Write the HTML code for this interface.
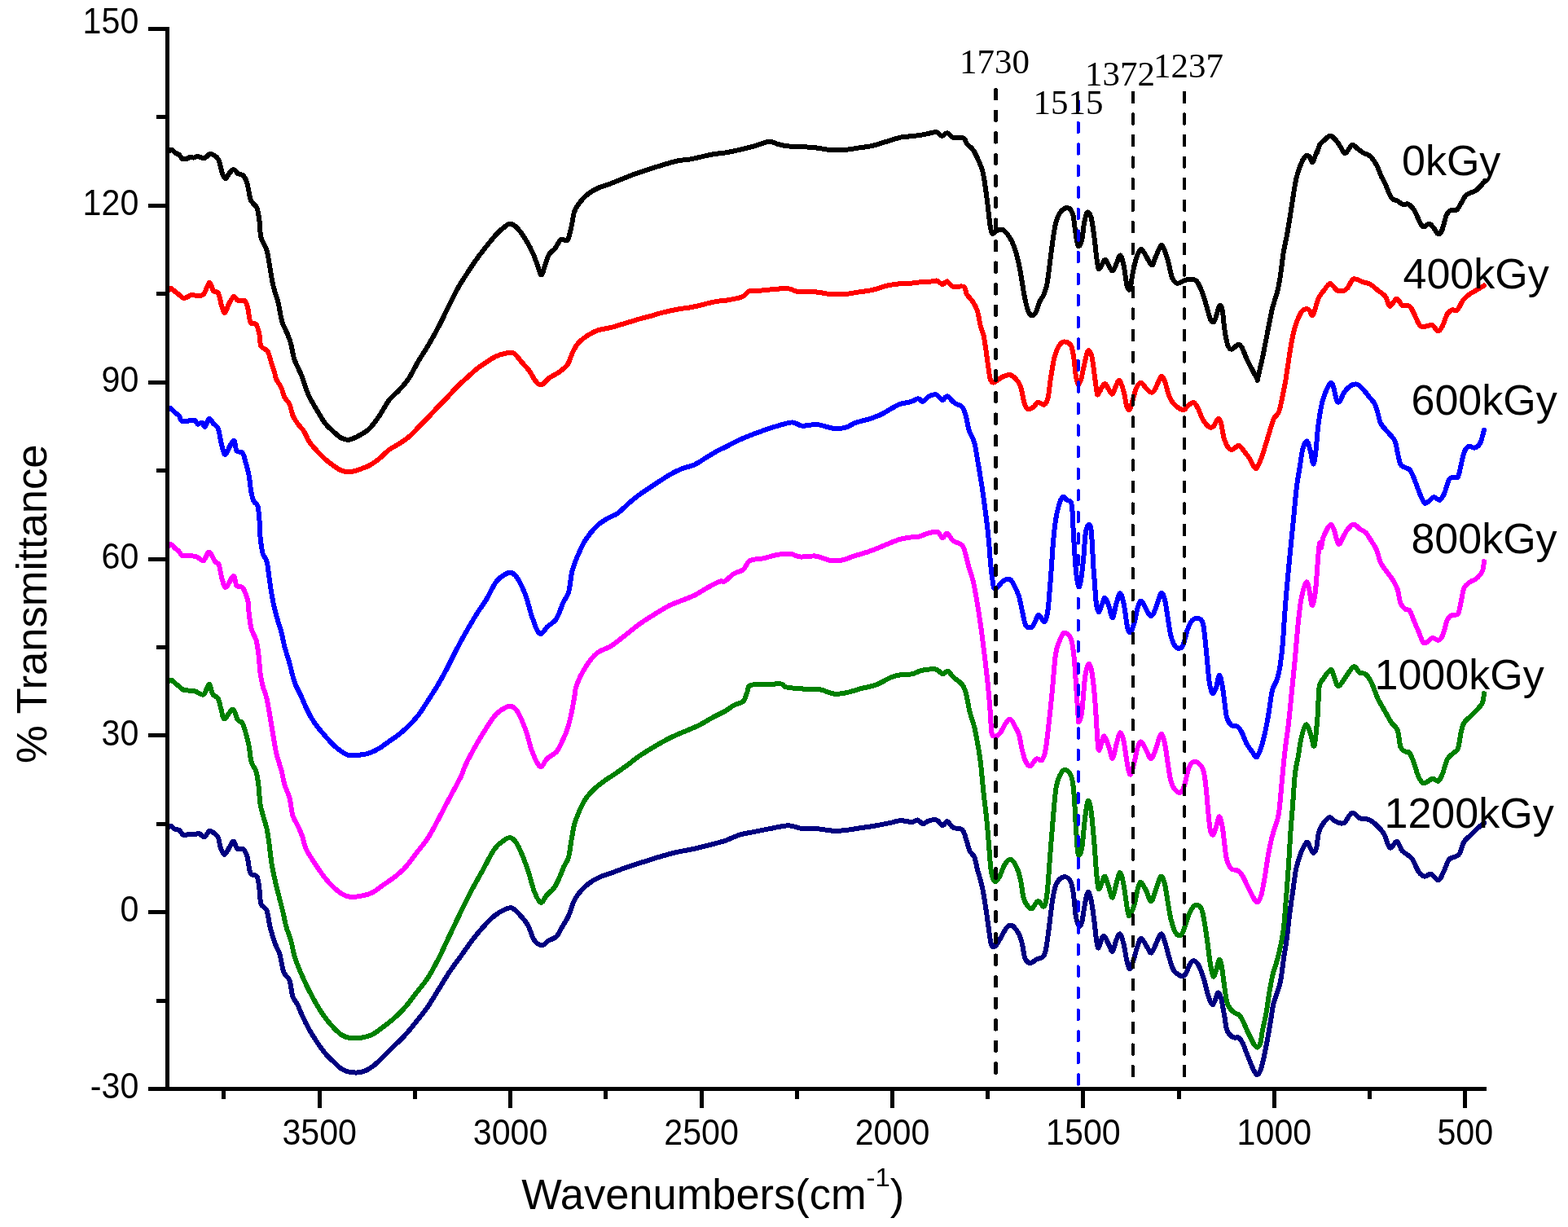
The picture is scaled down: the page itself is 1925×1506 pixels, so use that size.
<!DOCTYPE html>
<html><head><meta charset="utf-8"><title>FTIR spectra</title>
<style>html,body{margin:0;padding:0;background:#fff;overflow:hidden;}svg{display:block;}.s{font-family:"Liberation Sans",Arial,sans-serif;}.t{font-family:"Liberation Serif","Times New Roman",serif;}</style>
</head><body>
<svg width="1925" height="1506" viewBox="0 0 1925 1506" shape-rendering="crispEdges">
<rect x="0" y="0" width="1925" height="1506" fill="#fff"/>
<path d="M206 1015.9 C206.7 1015.6 208.5 1013.6 210 1013.9 C211.5 1014.2 213.3 1017.1 215 1017.9 C216.7 1018.7 218.3 1017.7 220 1018.9 C221.7 1020.1 223 1024.1 225 1024.9 C227 1025.7 229.4 1024.1 231.9 1023.9 C234.4 1023.7 237.7 1024.1 239.8 1023.9 C242 1023.7 243 1022.3 244.8 1022.9 C246.6 1023.5 248.8 1028 250.8 1027.5 C252.8 1027 255 1020.9 256.8 1020 C258.6 1019.1 260 1020.6 261.8 1021.9 C263.6 1023.1 266.2 1024.5 267.7 1027.5 C269.2 1030.5 269.4 1036.4 270.7 1040 C272 1043.6 273.9 1048.9 275.7 1048.9 C277.5 1048.9 279.9 1042.7 281.7 1040 C283.5 1037.3 285 1032.2 286.7 1032.5 C288.4 1032.8 289.6 1040.4 291.6 1042 C293.6 1043.6 296.6 1040.3 298.6 1042 C300.6 1043.7 302.1 1046.9 303.6 1051.9 C305.1 1056.9 305.6 1067.8 307.6 1071.8 C309.6 1075.8 313.7 1072.5 315.5 1075.8 C317.3 1079.1 317.7 1086.1 318.5 1091.7 C319.3 1097.3 319 1105.3 320.5 1109.6 C322 1113.9 325.7 1112.9 327.5 1117.6 C329.3 1122.2 329.8 1130.8 331.5 1137.5 C333.2 1144.2 335.5 1151.8 337.5 1157.5 C339.5 1163.2 341.6 1165.4 343.4 1171.4 C345.2 1177.4 346.4 1188 348.4 1193.3 C350.4 1198.6 353.6 1198.3 355.4 1203.3 C357.2 1208.3 357.8 1218.2 359.4 1223.2 C361 1228.2 363.3 1229.1 365.3 1233.1 C367.3 1237.1 369 1242.1 371.3 1247.1 C373.6 1252.1 376.3 1257.7 379.3 1263 C382.3 1268.3 385.9 1274 389.2 1279 C392.5 1284 395.9 1288.9 399.2 1292.9 C402.5 1296.9 405.9 1299.8 409.2 1302.9 C412.5 1306.1 415.8 1309.7 419.1 1311.8 C422.4 1313.9 425 1315.1 429.1 1315.8 C433.2 1316.5 438.9 1317 443.6 1315.9 C448.3 1314.8 452.7 1312.3 457.2 1309.1 C461.7 1305.9 466.3 1301.2 470.8 1296.9 C475.3 1292.6 479.9 1287.8 484.4 1283.3 C488.9 1278.8 493.5 1274.7 498 1269.7 C502.5 1264.7 507.1 1259 511.6 1253.3 C516.1 1247.6 520.7 1242.2 525.2 1235.6 C529.7 1229 534.3 1221.2 538.8 1213.9 C543.3 1206.7 547.8 1198.9 552.4 1192.1 C557 1185.3 561.5 1179.4 566.1 1173.1 C570.7 1166.8 575.2 1159.9 579.7 1154 C584.2 1148.1 588.8 1142.7 593.3 1137.7 C597.8 1132.7 602.4 1127.7 606.9 1124.1 C611.4 1120.5 616.9 1117.5 620.5 1115.9 C624.1 1114.3 625.9 1113.7 628.6 1114.6 C631.3 1115.5 633.6 1118 636.8 1121.4 C640 1124.8 644.5 1129.6 647.7 1135 C650.9 1140.4 652.9 1149.8 655.9 1154 C658.9 1158.2 662.5 1160.1 665.5 1160.2 C668.5 1160.3 670.7 1156.2 673.6 1154.4 C676.5 1152.7 680.2 1152.4 682.9 1149.7 C685.6 1147 687.4 1142.3 689.9 1138.1 C692.4 1133.8 695.7 1129.2 698 1124.2 C700.3 1119.2 701.7 1112.6 703.8 1107.9 C705.9 1103.2 707.7 1100.2 710.8 1096.3 C713.9 1092.4 718.1 1088 722.4 1084.7 C726.6 1081.4 731.3 1078.8 736.3 1076.5 C741.3 1074.2 746.8 1072.8 752.6 1070.7 C758.4 1068.6 765 1065.9 771.2 1063.8 C777.4 1061.7 783.6 1059.9 789.8 1057.9 C796 1056 801.7 1054 808.3 1052.1 C814.9 1050.2 821.9 1048 829.3 1046.3 C836.7 1044.6 844.8 1043.4 852.5 1041.7 C860.2 1040 869.5 1037.5 875.7 1035.9 C882 1034.3 884.5 1033.8 890 1031.9 C895.5 1030 902.4 1026.4 908.6 1024.5 C914.8 1022.6 921 1022 927.2 1020.7 C933.4 1019.5 939 1018.2 945.8 1017 C952.6 1015.8 961.6 1013.3 968.1 1013.3 C974.6 1013.3 979.2 1016.4 984.8 1017 C990.4 1017.6 995 1016.5 1001.5 1017 C1008 1017.5 1017.7 1019.5 1023.9 1019.8 C1030.1 1020.1 1033.1 1019.5 1038.7 1018.9 C1044.3 1018.3 1051.1 1017 1057.3 1016.1 C1063.5 1015.2 1069.7 1014.4 1075.9 1013.3 C1082.1 1012.2 1089.5 1010.6 1094.5 1009.6 C1099.5 1008.6 1101.5 1007.3 1105.7 1007.2 C1110 1007.1 1116.5 1009.1 1120 1009 C1123.5 1008.9 1124.3 1006 1126.5 1006.4 C1128.7 1006.8 1130.7 1010.9 1133 1011.1 C1135.3 1011.3 1137.6 1008.2 1140.4 1007.4 C1143.2 1006.6 1146.9 1005.5 1149.7 1006.4 C1152.5 1007.3 1155 1012.7 1157.2 1013 C1159.4 1013.3 1160.6 1007.8 1162.8 1008.3 C1165 1008.8 1167.1 1014 1170.2 1015.7 C1173.3 1017.4 1178.7 1016.2 1181.3 1018.5 C1183.9 1020.8 1184.5 1025.4 1186 1029.7 C1187.5 1034 1188.9 1040.9 1190.6 1044.6 C1192.3 1048.3 1194.7 1048.3 1196.2 1052 C1197.8 1055.7 1198.4 1061 1199.9 1066.9 C1201.5 1072.8 1204 1080.5 1205.5 1087.3 C1207 1094.1 1208 1100 1209.2 1107.8 C1210.5 1115.5 1211.8 1125.4 1213 1133.8 C1214.2 1142.2 1215.3 1153.3 1216.7 1158 C1218.1 1162.7 1219.5 1162.6 1221.3 1161.7 C1223.1 1160.8 1225.5 1156.1 1227.8 1152.4 C1230.1 1148.7 1233 1142.2 1235.3 1139.4 C1237.6 1136.6 1239.3 1134.8 1241.8 1135.7 C1244.3 1136.6 1247.9 1141.3 1250.1 1145 C1252.3 1148.7 1253.4 1152.7 1254.8 1158 C1256.2 1163.3 1256.8 1172.6 1258.5 1176.6 C1260.2 1180.6 1262.7 1181.9 1265 1182.1 C1267.3 1182.2 1269.9 1178.7 1272.4 1177.5 C1274.9 1176.3 1278 1176.4 1279.9 1174.7 C1281.8 1173 1282.4 1172.6 1283.6 1167.3 C1284.8 1162 1285.9 1153.3 1287.3 1143.1 C1288.7 1132.9 1290.5 1115.5 1292 1105.9 C1293.5 1096.3 1294.3 1090.5 1296.6 1085.5 C1298.9 1080.5 1303 1076.8 1305.9 1076.2 C1308.9 1075.6 1312.3 1078 1314.3 1081.7 C1316.3 1085.4 1316.9 1091.4 1318 1098.5 C1319.1 1105.6 1319.7 1118.2 1320.8 1124.5 C1321.9 1130.8 1323.3 1135.4 1324.5 1136.6 C1325.7 1137.8 1327 1136.4 1328.2 1131.9 C1329.4 1127.4 1330.7 1115.8 1331.9 1109.6 C1333.1 1103.4 1334.3 1095.7 1335.6 1094.8 C1336.8 1093.9 1338.2 1098.4 1339.4 1104 C1340.7 1109.6 1342 1120.1 1343.1 1128.2 C1344.2 1136.3 1345 1146.5 1345.9 1152.4 C1346.8 1158.3 1347.5 1163.8 1348.7 1163.5 C1349.9 1163.2 1352 1152.7 1353.3 1150.5 C1354.6 1148.3 1355.2 1148.6 1356.5 1150.1 C1357.8 1151.6 1359.7 1156.5 1361.2 1159.4 C1362.8 1162.3 1364.3 1168.6 1365.8 1167.7 C1367.3 1166.8 1368.9 1157.3 1370.4 1153.8 C1372 1150.2 1373.5 1145.5 1375.1 1146.4 C1376.6 1147.3 1378.3 1153.8 1379.7 1159.4 C1381.1 1165 1382.2 1174.8 1383.5 1179.8 C1384.8 1184.8 1385.8 1189.4 1387.2 1189.1 C1388.6 1188.8 1390.2 1182.7 1391.8 1178 C1393.3 1173.3 1395 1165.5 1396.5 1161.2 C1398 1156.9 1399.2 1151.9 1401.1 1151.9 C1402.9 1151.9 1405.6 1158.2 1407.6 1161.2 C1409.6 1164.2 1411.3 1169.9 1413.2 1169.6 C1415.1 1169.3 1416.8 1163.3 1418.8 1159.4 C1420.8 1155.5 1423.4 1147 1425.3 1146.4 C1427.2 1145.8 1428.4 1151.4 1429.9 1155.7 C1431.5 1160 1432.9 1166.7 1434.6 1172.4 C1436.3 1178.1 1438.3 1186 1440.3 1189.9 C1442.2 1193.8 1444.4 1194.5 1446.3 1195.9 C1448.2 1197.3 1450.1 1198.5 1451.7 1198.3 C1453.3 1198.1 1454.4 1197.1 1455.9 1194.7 C1457.4 1192.3 1459 1186.5 1460.6 1183.9 C1462.2 1181.3 1463.8 1179.3 1465.4 1179.1 C1467 1178.9 1468.8 1180.9 1470.2 1182.7 C1471.6 1184.5 1472.4 1186.3 1473.8 1189.9 C1475.2 1193.5 1477 1198.8 1478.6 1204.2 C1480.2 1209.6 1481.8 1217.4 1483.4 1222.2 C1485 1227 1486.7 1231.9 1488.1 1232.9 C1489.5 1233.9 1490.5 1230.5 1491.7 1228.1 C1492.9 1225.7 1494.1 1219.2 1495.3 1218.6 C1496.5 1218 1497.9 1221.6 1498.9 1224.6 C1499.9 1227.6 1500.5 1232.3 1501.3 1236.5 C1502.1 1240.7 1502.9 1245.1 1503.7 1249.7 C1504.5 1254.3 1504.9 1260.4 1506.1 1264 C1507.3 1267.6 1509.3 1269.6 1510.9 1271.2 C1512.5 1272.8 1514 1273.2 1515.6 1273.6 C1517.2 1274 1518.8 1272.6 1520.4 1273.6 C1522 1274.6 1523.6 1276.5 1525.2 1279.5 C1526.8 1282.5 1528.4 1287.5 1530 1291.5 C1531.6 1295.5 1533.2 1299.7 1534.8 1303.5 C1536.4 1307.3 1538.1 1311.6 1539.5 1314.2 C1540.9 1316.8 1541.9 1318.8 1543.1 1319 C1544.3 1319.2 1545.5 1318 1546.7 1315.4 C1547.9 1312.8 1549.1 1308.3 1550.3 1303.5 C1551.5 1298.7 1552.7 1292.7 1553.9 1286.7 C1555.1 1280.7 1556.4 1273.8 1557.5 1267.6 C1558.6 1261.4 1559.5 1255.7 1560.5 1249.7 C1561.5 1243.7 1562.2 1237.1 1563.5 1231.7 C1564.8 1226.3 1566.8 1221.8 1568.2 1217.4 C1569.6 1213 1570.8 1210 1571.8 1205.4 C1572.8 1200.8 1573.4 1195.5 1574.2 1189.9 C1575 1184.3 1575.8 1177.3 1576.6 1172 C1577.4 1166.7 1577.8 1166.7 1579 1158 C1580.2 1149.3 1582.1 1130.9 1583.5 1120 C1584.9 1109.1 1586.1 1101.3 1587.4 1092.4 C1588.7 1083.5 1589.7 1073.8 1591.2 1066.4 C1592.8 1059 1594.5 1053.2 1596.7 1047.8 C1598.9 1042.4 1602.2 1035 1604.2 1033.9 C1606.2 1032.8 1607.4 1039.1 1608.8 1041.3 C1610.2 1043.5 1611.3 1047.1 1612.5 1046.9 C1613.7 1046.8 1615.1 1044.6 1616.2 1040.4 C1617.3 1036.2 1617.6 1026.8 1619 1021.8 C1620.4 1016.8 1622.4 1013.7 1624.6 1010.6 C1626.8 1007.5 1629.8 1003.8 1632 1003.2 C1634.2 1002.6 1635.7 1005.8 1637.6 1006.9 C1639.5 1008 1641 1009.2 1643.2 1009.7 C1645.4 1010.2 1647.8 1011.7 1650.6 1009.7 C1653.4 1007.7 1656.8 998.5 1659.9 997.6 C1663 996.7 1665.8 1002.7 1669.2 1004.1 C1672.6 1005.5 1677 1004.6 1680.4 1006 C1683.8 1007.4 1686.6 1009.6 1689.7 1012.5 C1692.8 1015.4 1696.2 1019 1699 1023.6 C1701.8 1028.2 1703.8 1038.9 1706.4 1040.4 C1709 1042 1712.3 1032.3 1714.8 1032.9 C1717.3 1033.5 1719 1041.3 1721.3 1044.1 C1723.6 1046.9 1726.5 1047.8 1728.7 1049.7 C1730.9 1051.6 1732.1 1051.8 1734.3 1055.2 C1736.5 1058.6 1739.2 1066.7 1741.7 1070.1 C1744.2 1073.5 1746.6 1075.2 1749.1 1075.7 C1751.6 1076.2 1753.8 1072.1 1756.6 1072.9 C1759.4 1073.7 1763.4 1080.5 1765.9 1080.3 C1768.4 1080.1 1769.2 1076.2 1771.4 1072 C1773.6 1067.8 1776.4 1058.6 1778.9 1055.2 C1781.4 1051.8 1784.1 1052.7 1786.3 1051.5 C1788.5 1050.3 1790 1050.9 1791.9 1047.8 C1793.8 1044.7 1795.3 1036.6 1797.5 1032.9 C1799.7 1029.2 1802.4 1028 1804.9 1025.5 C1807.4 1023 1809.5 1020.7 1812.3 1018.1 C1815.1 1015.5 1820.4 1011.4 1822 1010" fill="none" stroke="#000080" stroke-width="6" stroke-linejoin="round" stroke-linecap="round"/>
<path d="M206 837.6 C206.7 837.1 208.5 834.4 210 834.6 C211.5 834.8 213.3 837.3 215 838.6 C216.7 839.9 218.3 841.3 220 842.6 C221.7 843.9 223 845.8 225 846.6 C227 847.4 229.4 847.3 231.9 847.6 C234.4 847.9 236.8 847.8 239.8 848.6 C242.8 849.4 247 854 249.8 852.5 C252.6 851 255 839.8 256.8 839.6 C258.6 839.5 259 848.6 260.8 851.6 C262.6 854.6 265.9 854.2 267.7 857.5 C269.5 860.8 270.4 867.4 271.7 871.5 C273 875.6 273.4 882.6 275.7 882.4 C278 882.2 283 870.3 285.7 870.5 C288.4 870.7 289.6 880.6 291.6 883.4 C293.6 886.2 295.9 884.7 297.6 887.4 C299.3 890.1 300.3 894.8 301.6 899.4 C302.9 904 304.4 909.3 305.6 915.3 C306.8 921.3 307.1 929.9 308.6 935.2 C310.1 940.5 313 942.2 314.5 947.2 C316 952.2 316.7 958.5 317.5 965.1 C318.3 971.7 318.5 980.7 319.5 987 C320.5 993.3 322.2 998 323.5 1003 C324.8 1008 326.3 1011.4 327.5 1016.9 C328.7 1022.4 329.5 1028.8 330.5 1036 C331.5 1043.2 332.3 1052.5 333.5 1059.8 C334.7 1067.1 336 1073.1 337.5 1079.8 C339 1086.5 340.8 1093.1 342.4 1099.7 C344 1106.3 345.9 1113.3 347.4 1119.6 C348.9 1125.9 349.7 1131.5 351.4 1137.5 C353.1 1143.5 355.7 1149.5 357.4 1155.5 C359.1 1161.5 359.8 1167.8 361.4 1173.4 C363 1179 365 1183.7 367.3 1189.3 C369.6 1194.9 372.6 1201.6 375.3 1207.3 C378 1213 380.7 1218.2 383.3 1223.2 C385.9 1228.2 388.6 1232.8 391.2 1237.1 C393.8 1241.4 396.2 1245.1 399.2 1249.1 C402.2 1253.1 405.9 1257.5 409.2 1261 C412.5 1264.5 415.8 1267.8 419.1 1270 C422.4 1272.2 425 1273.4 429.1 1274 C433.2 1274.6 438.9 1274.4 443.6 1273.7 C448.3 1273 452.7 1272 457.2 1269.7 C461.7 1267.4 466.3 1263.5 470.8 1260.1 C475.3 1256.7 479.9 1253.4 484.4 1249.3 C488.9 1245.2 493.5 1240.8 498 1235.6 C502.5 1230.4 507.1 1223.9 511.6 1218 C516.1 1212.1 520.7 1207.3 525.2 1200.3 C529.7 1193.3 534.3 1184.6 538.8 1175.8 C543.3 1167 547.8 1156.7 552.4 1147.2 C557 1137.7 561.5 1127.9 566.1 1118.6 C570.7 1109.3 575.2 1100 579.7 1091.4 C584.2 1082.8 588.8 1075.1 593.3 1066.9 C597.8 1058.7 602.4 1048.5 606.9 1042.4 C611.4 1036.3 616.9 1032.5 620.5 1030.2 C624.1 1027.9 625.9 1027.2 628.6 1028.8 C631.3 1030.4 633.6 1033.3 636.8 1039.7 C640 1046.1 644.5 1057.8 647.7 1066.9 C650.9 1076 653.2 1087.3 655.9 1094.1 C658.6 1100.9 661.4 1107 664 1107.8 C666.6 1108.5 668.5 1101.7 671.3 1098.6 C674.1 1095.5 677.9 1093.2 680.6 1089.3 C683.3 1085.4 685.6 1079.7 687.5 1075.4 C689.4 1071.2 690.5 1067.7 692.2 1063.8 C694 1059.9 696.5 1057.5 698 1052.1 C699.5 1046.7 700.3 1037.8 701.5 1031.2 C702.7 1024.6 703.5 1018.4 705 1012.6 C706.5 1006.8 708.7 1001.4 710.8 996.4 C712.9 991.4 715 986.7 717.7 982.4 C720.4 978.1 723.1 974.7 727 970.8 C730.9 966.9 736.4 962.7 741 959.2 C745.6 955.7 749.9 953.4 754.9 949.9 C759.9 946.4 766.2 942 771.2 938.3 C776.2 934.6 779.7 931.5 785.1 927.8 C790.5 924.1 797.5 919.9 803.7 916.2 C809.9 912.5 816.1 908.9 822.3 905.8 C828.5 902.7 835.1 900.1 840.9 897.6 C846.7 895.1 851.3 893.6 857.1 890.7 C862.9 887.8 870.2 883.2 875.7 880.2 C881.2 877.2 885.8 875.5 890 873 C894.2 870.5 897.5 867.5 901.2 865.5 C904.9 863.5 909.7 863.4 912.3 860.9 C914.9 858.4 915.6 853.9 917 850.6 C918.4 847.3 917.5 843 920.7 841.3 C924 839.6 930.1 840.7 936.5 840.4 C942.9 840.1 954.1 839 958.8 839.5 C963.4 840 960.4 842.2 964.4 843.2 C968.4 844.2 976.2 844.9 983 845.4 C989.8 845.9 998.5 845 1005.3 846 C1012.1 847 1018.3 850.9 1023.9 851.6 C1029.5 852.3 1033.1 851.4 1038.7 850.3 C1044.3 849.2 1051.1 846.8 1057.3 845.1 C1063.5 843.5 1069.7 842.7 1075.9 840.4 C1082.1 838.1 1089.5 833.1 1094.5 831.1 C1099.5 829.1 1101.5 828.9 1105.7 828.3 C1110 827.7 1116.1 828.1 1120 827.3 C1123.9 826.5 1126.2 824.5 1129.3 823.6 C1132.4 822.7 1135.2 822 1138.6 821.7 C1142 821.4 1146.6 820.8 1149.7 821.7 C1152.8 822.6 1154.9 827 1157.2 827.3 C1159.5 827.6 1161.5 823 1163.7 823.6 C1165.9 824.2 1167.3 828.2 1170.2 831 C1173.1 833.8 1178.7 836.9 1181.3 840.3 C1183.9 843.7 1184.5 845.9 1186 851.5 C1187.5 857.1 1188.9 867 1190.6 873.8 C1192.3 880.6 1194.7 886.2 1196.2 892.4 C1197.8 898.6 1198.7 903.9 1199.9 911 C1201.2 918.1 1202.5 924.8 1203.7 935 C1205 945.2 1206.2 960.6 1207.4 972.1 C1208.6 983.6 1210 993.2 1211.1 1003.7 C1212.2 1014.2 1213 1024.5 1213.9 1035.3 C1214.8 1046.1 1215.5 1061 1216.7 1068.7 C1217.9 1076.4 1219.6 1080.5 1221.3 1081.7 C1223 1083 1224.9 1079.6 1226.9 1076.2 C1228.9 1072.8 1231.1 1064.9 1233.4 1061.3 C1235.7 1057.7 1238.3 1054.2 1240.8 1054.8 C1243.3 1055.4 1246.3 1060.8 1248.3 1065 C1250.3 1069.2 1251.5 1073.7 1252.9 1079.9 C1254.3 1086.1 1255.2 1096.9 1256.6 1102.2 C1258 1107.5 1259.6 1109.3 1261.3 1111.5 C1263 1113.7 1264.7 1116.1 1266.9 1115.2 C1269.1 1114.3 1271.8 1106.4 1274.3 1105.9 C1276.8 1105.4 1279.8 1114 1281.7 1112.4 C1283.6 1110.9 1284.2 1107 1285.5 1096.6 C1286.8 1086.2 1288 1065.6 1289.2 1050.1 C1290.4 1034.6 1291.7 1017.6 1292.9 1003.7 C1294.1 989.8 1295.2 975.2 1296.6 966.5 C1298 957.8 1299.6 955.2 1301.3 951.6 C1303 948 1304.6 945.2 1306.8 945.1 C1309 945 1312.4 946.8 1314.3 950.7 C1316.2 954.6 1316.9 957.9 1318 968.3 C1319.1 978.7 1320 1000.9 1320.8 1013 C1321.6 1025.1 1322 1034.6 1322.6 1040.8 C1323.2 1047 1323.6 1050.1 1324.5 1050.1 C1325.4 1050.1 1327 1048.2 1328.2 1040.8 C1329.4 1033.4 1330.7 1015.1 1331.9 1005.5 C1333.1 995.9 1334.3 985.1 1335.6 983.2 C1336.8 981.4 1338.2 986.4 1339.4 994.4 C1340.7 1002.4 1342 1019.1 1343.1 1031.5 C1344.2 1043.9 1345 1058.8 1345.9 1068.7 C1346.8 1078.6 1347.5 1088.8 1348.7 1091 C1349.9 1093.2 1352 1084.2 1353.3 1081.7 C1354.6 1079.2 1355.2 1074.5 1356.5 1075.7 C1357.8 1076.9 1359.7 1084.4 1361.2 1088.7 C1362.8 1093 1364.3 1102.3 1365.8 1101.7 C1367.3 1101.1 1368.9 1090.1 1370.4 1085 C1372 1079.9 1373.5 1070.8 1375.1 1071.1 C1376.6 1071.4 1378.2 1079 1379.7 1086.9 C1381.2 1094.8 1383.2 1112.5 1384.4 1118.5 C1385.7 1124.5 1385.8 1124.6 1387.2 1123.1 C1388.6 1121.5 1391.1 1114.9 1392.8 1109.2 C1394.5 1103.5 1396 1093 1397.4 1088.7 C1398.8 1084.4 1399.4 1082.3 1401.1 1083.2 C1402.8 1084.1 1405.6 1090.4 1407.6 1094.3 C1409.6 1098.2 1411.3 1106.7 1413.2 1106.4 C1415.1 1106.1 1416.8 1097.5 1418.8 1092.4 C1420.8 1087.3 1423.4 1076.9 1425.3 1075.7 C1427.2 1074.5 1428.5 1079.7 1429.9 1085 C1431.3 1090.3 1432.5 1100.2 1433.7 1107.3 C1435 1114.4 1435.9 1121.6 1437.4 1127.8 C1439 1134 1441 1141.1 1443 1144.5 C1445 1147.9 1447.7 1149.1 1449.5 1148.2 C1451.3 1147.3 1452.4 1143.2 1454.1 1138.9 C1455.8 1134.6 1457.5 1126.9 1459.7 1122.2 C1461.9 1117.5 1464.6 1112.2 1467.1 1111 C1469.6 1109.8 1472.7 1111.7 1474.6 1114.8 C1476.5 1117.9 1477.1 1123.1 1478.3 1129.6 C1479.5 1136.1 1480.8 1145.1 1482 1153.8 C1483.2 1162.5 1484.5 1174.3 1485.7 1181.7 C1486.9 1189.1 1488.2 1196.9 1489.4 1198.4 C1490.6 1200 1491.9 1194.4 1493.1 1191 C1494.3 1187.6 1495.6 1179.1 1496.7 1177.9 C1497.8 1176.7 1498.5 1179.3 1499.5 1183.9 C1500.5 1188.5 1501.4 1197.8 1502.5 1205.4 C1503.6 1213 1504.7 1223.7 1506.1 1229.3 C1507.5 1234.9 1509.1 1236.5 1510.9 1238.9 C1512.7 1241.3 1515 1242.5 1516.8 1243.7 C1518.6 1244.9 1520 1244.3 1521.6 1246.1 C1523.2 1247.9 1524.8 1251.2 1526.4 1254.4 C1528 1257.6 1529.6 1261.8 1531.2 1265.2 C1532.8 1268.6 1534.6 1272 1536 1274.8 C1537.4 1277.6 1538.2 1280.1 1539.5 1281.9 C1540.8 1283.7 1542.4 1285.8 1543.7 1285.5 C1545 1285.2 1546.5 1283.1 1547.5 1280 C1548.5 1276.9 1548.3 1273.2 1549.5 1266.9 C1550.7 1260.6 1553.2 1250.8 1554.7 1242.2 C1556.2 1233.6 1557.4 1223.4 1558.8 1215.5 C1560.2 1207.6 1561.2 1201.8 1562.9 1194.9 C1564.6 1188 1567 1182.9 1569.1 1174.3 C1571.2 1165.7 1573.6 1155.5 1575.3 1143.5 C1577 1131.5 1577.8 1116.5 1579 1102.3 C1580.2 1088 1581.3 1071.7 1582.2 1058 C1583.1 1044.3 1583.7 1031.5 1584.5 1020 C1585.3 1008.5 1586.1 1000.6 1587 988.8 C1587.9 977 1588.9 959 1590 949 C1591.1 939 1592.4 936.3 1593.7 929 C1595 921.7 1596 911.8 1597.7 905.2 C1599.4 898.6 1601.7 889.6 1603.7 889.3 C1605.7 889 1608.1 898.9 1609.7 903.2 C1611.3 907.5 1612.3 919.1 1613.6 915.1 C1614.9 911.1 1616.6 891.2 1617.6 879.3 C1618.6 867.4 1618.4 851.2 1619.6 843.5 C1620.8 835.8 1622.2 836.7 1624.6 833.1 C1627 829.5 1631.6 822 1633.9 822 C1636.2 822 1637 829.7 1638.6 833.1 C1640.1 836.5 1641.2 842.4 1643.2 842.4 C1645.2 842.4 1647.5 837.1 1650.6 833.1 C1653.7 829.1 1658.7 819.5 1661.8 818.3 C1664.9 817.1 1666.7 824.2 1669.2 825.7 C1671.7 827.2 1674.2 825.3 1676.7 827.5 C1679.2 829.7 1681.6 833.7 1684.1 838.7 C1686.6 843.7 1688.7 851.4 1691.5 857.3 C1694.3 863.2 1698 869 1700.8 874 C1703.6 879 1705.8 883.3 1708.3 887 C1710.8 890.7 1713.8 891.3 1715.7 896.3 C1717.6 901.3 1717.9 912.4 1719.4 916.8 C1721 921.1 1723.1 921.2 1725 922.4 C1726.9 923.6 1728.8 921.7 1730.6 924.2 C1732.4 926.7 1734.2 932.2 1736.1 937.2 C1737.9 942.2 1739.7 949.9 1741.7 953.9 C1743.7 957.9 1745.4 961.1 1748.2 961.4 C1751 961.7 1755.5 956.3 1758.4 955.8 C1761.4 955.3 1763.7 959.8 1765.9 958.6 C1768.1 957.4 1769.6 952.9 1771.4 948.4 C1773.2 943.9 1774.8 935.6 1777 931.6 C1779.2 927.6 1782.3 926.4 1784.5 924.2 C1786.7 922 1788.5 922.9 1790 918.6 C1791.5 914.3 1792.5 903.5 1793.8 898.2 C1795 892.9 1795.7 890.1 1797.5 887 C1799.3 883.9 1802.4 882.1 1804.9 879.6 C1807.4 877.1 1809.8 875 1812.3 872.2 C1814.8 869.4 1818.2 866.4 1819.8 862.9 C1821.4 859.4 1821.6 853 1822 851" fill="none" stroke="#008000" stroke-width="6" stroke-linejoin="round" stroke-linecap="round"/>
<path d="M206 671 C206.7 670.5 208.5 667.7 210 668 C211.5 668.3 213.5 671.7 215 673 C216.5 674.3 217.5 674.5 219 676 C220.5 677.5 221.8 681 224 682 C226.2 683 229.3 681.8 232 682 C234.7 682.2 238 682.5 240 683 C242 683.5 242.3 684.2 244 685 C245.7 685.8 248 689.2 250 688 C252 686.8 254.2 679.2 255.8 678 C257.4 676.8 258.5 679.2 259.8 681 C261.1 682.8 262.2 687 263.7 689 C265.2 691 267.4 690 268.7 693 C270 696 270.5 702.5 271.7 707 C272.9 711.5 274.4 718.2 275.7 720 C277 721.8 277.9 720.2 279.7 718 C281.5 715.8 284.9 706.8 286.7 707 C288.5 707.2 288.8 716.7 290.6 719 C292.4 721.3 295.8 719.3 297.6 721 C299.4 722.7 300.4 726 301.6 729 C302.8 732 303.9 735.2 304.6 739 C305.3 742.8 304.9 746.5 305.6 752 C306.3 757.5 307.1 766.3 308.6 771.9 C310.1 777.5 313 780.5 314.5 785.8 C316 791.1 316.7 797.1 317.5 803.7 C318.3 810.4 318.7 819.4 319.5 825.7 C320.3 832 321.2 836.3 322.5 841.6 C323.8 846.9 326 851.2 327.5 857.5 C329 863.8 330.2 871.8 331.5 879.4 C332.8 887 334.2 895.6 335.5 903.3 C336.8 910.9 337.8 918.3 339.4 925.3 C341 932.3 343.7 938.9 345.4 945.2 C347.1 951.5 347.7 957.5 349.4 963.1 C351.1 968.7 353.7 972.7 355.4 979 C357.1 985.3 357.8 995.4 359.4 1001 C361 1006.6 363.3 1008.6 365.3 1012.9 C367.3 1017.2 369.5 1022 371.3 1026.9 C373.1 1031.8 373 1036.3 376 1042.5 C379 1048.7 385.3 1057.9 389.2 1063.8 C393.1 1069.7 395.9 1073.6 399.2 1077.8 C402.5 1082 405.9 1085.5 409.2 1088.7 C412.5 1091.9 415.8 1094.7 419.1 1096.7 C422.4 1098.7 425 1100.2 429.1 1100.7 C433.2 1101.2 438.9 1100.5 443.6 1099.6 C448.3 1098.7 452.7 1097.8 457.2 1095.5 C461.7 1093.2 466.3 1089.2 470.8 1086 C475.3 1082.8 479.9 1080.1 484.4 1076.5 C488.9 1072.9 493.5 1069.2 498 1064.2 C502.5 1059.2 507.1 1052.4 511.6 1046.5 C516.1 1040.6 520.7 1035.8 525.2 1028.8 C529.7 1021.8 534.3 1012.8 538.8 1004.4 C543.3 996 547.8 987.1 552.4 978.5 C557 969.9 563 959.1 566.1 952.7 C569.2 946.3 568.2 946 571 940 C573.8 934 578.6 924.8 583 917 C587.4 909.2 592.9 900 597.3 893.2 C601.7 886.4 605.3 880.6 609.3 876.4 C613.3 872.2 618 869.7 621.2 868.1 C624.4 866.5 626 865.9 628.4 866.9 C630.8 867.9 632.8 869.2 635.6 874 C638.4 878.8 642.4 888 645.2 895.6 C648 903.2 649.9 912.7 652.3 919.5 C654.7 926.3 657.4 932.6 659.5 936.2 C661.6 939.8 662.8 941.9 664.8 941 C666.8 940.1 668.7 934 671.7 931 C674.7 928 679.9 926.4 682.9 923 C685.9 919.6 687.6 915.2 689.9 910.4 C692.2 905.6 694.9 899.9 696.8 894.1 C698.7 888.3 700.1 881.8 701.5 875.6 C702.9 869.4 703.9 862.8 705 857 C706.1 851.2 705.6 847.1 708 840.6 C710.4 834.1 714.9 824.8 719.1 818.3 C723.3 811.8 727.9 805.7 733 801.5 C738.1 797.3 744.2 796.7 749.8 793.2 C755.4 789.7 760.5 785.2 766.5 780.6 C772.5 776 779.5 769.9 786 765.3 C792.5 760.7 799.5 756.5 805.5 752.8 C811.5 749.1 817.1 745.6 822.2 743 C827.3 740.4 831.1 739.5 836.2 737.4 C841.3 735.3 847.3 733.3 852.9 730.5 C858.5 727.7 864.5 723.5 869.6 720.7 C874.7 717.9 880.2 714.9 883.6 713.7 C887 712.5 887.1 714.9 890 713.3 C892.9 711.7 897.5 706.3 901.2 704 C904.9 701.7 909 701.9 912.3 699.3 C915.5 696.7 916.7 690.5 920.7 688.2 C924.7 685.9 930.8 686.6 936.5 685.4 C942.2 684.2 949.5 681.7 955.1 680.8 C960.7 679.9 965.2 679.3 969.9 679.8 C974.5 680.2 977.7 683 983 683.5 C988.3 684 995.3 681.8 1001.5 682.6 C1007.7 683.4 1014.5 687.4 1020.1 688.2 C1025.7 689 1030.3 688.2 1035 687.3 C1039.7 686.4 1042.7 684.3 1048 682.6 C1053.3 680.9 1060.4 679.2 1066.6 677 C1072.8 674.8 1079 672.1 1085.2 669.6 C1091.4 667.1 1098.2 663.9 1103.8 662.2 C1109.4 660.5 1114.5 660 1118.7 659.4 C1123 658.8 1126 659.2 1129.3 658.4 C1132.6 657.6 1135 655.6 1138.6 654.7 C1142.2 653.8 1147.6 651.9 1150.7 652.8 C1153.8 653.7 1155.2 660 1157.2 660.3 C1159.2 660.6 1160.6 654.1 1162.8 654.7 C1165 655.3 1167.1 661.2 1170.2 663.7 C1173.3 666.2 1178.7 666.4 1181.3 669.5 C1183.9 672.6 1184.6 677.7 1186 682.3 C1187.4 686.9 1188.3 692.2 1189.7 697.2 C1191.1 702.2 1193 706.5 1194.4 712.1 C1195.8 717.7 1196.9 723.8 1198.1 730.6 C1199.3 737.4 1200.6 744.9 1201.8 753 C1203 761.1 1204.3 769.7 1205.5 779 C1206.7 788.3 1208 798.2 1209.2 808.7 C1210.5 819.2 1211.9 831.4 1213 842.2 C1214.1 853.1 1214.9 864.2 1215.7 873.8 C1216.5 883.4 1216.5 894.8 1217.6 899.8 C1218.7 904.8 1220.5 903.5 1222.2 903.5 C1223.9 903.5 1225.6 902.6 1227.8 899.8 C1230 897 1233.1 889.6 1235.3 886.8 C1237.5 884 1238.9 882.2 1240.8 883.1 C1242.7 884 1244.7 889.3 1246.4 892.4 C1248.1 895.5 1249.7 897.1 1251.1 901.7 C1252.5 906.4 1253.4 914.7 1254.8 920.3 C1256.2 925.9 1257.7 931.8 1259.4 935.1 C1261.1 938.4 1262.8 940.6 1265 940 C1267.2 939.4 1270.1 932.6 1272.4 931.4 C1274.7 930.2 1277.1 934.9 1279 933 C1280.9 931.1 1282.1 928.6 1283.6 920.3 C1285.1 912 1286.8 895.5 1288.2 883.1 C1289.6 870.7 1290.8 858.9 1292 845.9 C1293.2 832.9 1294.5 814.3 1295.7 805 C1296.9 795.7 1297.7 794.8 1299.4 790.1 C1301.1 785.5 1303.4 778.3 1305.9 777.1 C1308.4 775.9 1312.3 778.7 1314.3 782.7 C1316.3 786.7 1316.9 792.3 1318 801.3 C1319.1 810.3 1319.9 823.6 1320.8 836.6 C1321.7 849.6 1323 871.2 1323.6 879.4 C1324.2 887.6 1323.7 886.8 1324.5 885.9 C1325.3 885 1327 882.6 1328.2 873.8 C1329.4 865 1330.7 842.5 1331.9 832.9 C1333.1 823.3 1334.3 818.4 1335.6 816.2 C1336.8 814 1338.2 815 1339.4 819.9 C1340.7 824.8 1342 835.4 1343.1 845.9 C1344.2 856.4 1345 870.7 1345.9 883.1 C1346.8 895.5 1347.3 916.6 1348.7 920.3 C1350.1 924 1352.9 908 1354.2 905.4 C1355.5 902.8 1355.3 903.1 1356.5 904.9 C1357.7 906.7 1359.7 911.8 1361.2 916.1 C1362.8 920.5 1364.3 931.3 1365.8 931 C1367.3 930.7 1368.9 919.5 1370.4 914.2 C1372 908.9 1373.5 900 1375.1 899.4 C1376.6 898.8 1378.2 903.7 1379.7 910.5 C1381.2 917.3 1383 933.6 1384.4 940.3 C1385.8 947 1386.7 951.4 1388.1 950.5 C1389.5 949.6 1391.4 940.1 1392.8 934.7 C1394.2 929.3 1395.1 922 1396.5 918 C1397.9 914 1399.2 909.9 1401.1 910.5 C1402.9 911.1 1405.6 918.3 1407.6 921.7 C1409.6 925.1 1411.3 931.3 1413.2 931 C1415.1 930.7 1416.8 924.8 1418.8 919.8 C1420.8 914.8 1423.4 902.4 1425.3 901.2 C1427.2 900 1428.5 906.5 1429.9 912.4 C1431.3 918.3 1432.5 928.9 1433.7 936.6 C1435 944.3 1435.9 953.1 1437.4 958.6 C1439 964.1 1441 967.4 1443 969.7 C1445 972 1447.7 973.4 1449.5 972.5 C1451.3 971.6 1452.4 969.3 1454.1 964.2 C1455.8 959.1 1457.5 946.9 1459.7 942 C1461.9 937.1 1464.3 934.5 1467.1 934.7 C1469.9 934.9 1474.2 938.4 1476.4 943 C1478.6 947.6 1479 954.1 1480.1 962.3 C1481.2 970.5 1482 982.8 1482.9 992.1 C1483.8 1001.4 1484.6 1012.7 1485.7 1018.1 C1486.8 1023.5 1488.2 1025.2 1489.4 1024.6 C1490.6 1024 1491.8 1018.1 1493.1 1014.4 C1494.3 1010.7 1495.7 1002.3 1496.9 1002.3 C1498.2 1002.3 1499.5 1008.7 1500.6 1014.4 C1501.7 1020.1 1502.5 1029.9 1503.4 1036.7 C1504.3 1043.5 1504.8 1050.3 1506.2 1055.3 C1507.6 1060.2 1509.5 1064.2 1511.7 1066.4 C1513.9 1068.6 1517 1067 1519.2 1068.3 C1521.4 1069.5 1522.8 1070.8 1524.8 1073.9 C1526.8 1077 1529.1 1082.6 1531.3 1086.9 C1533.5 1091.2 1535.8 1096.5 1537.8 1099.9 C1539.8 1103.3 1541.6 1107.7 1543.4 1107.4 C1545.2 1107.1 1547 1103.2 1548.5 1098.2 C1550 1093.2 1551.2 1085.5 1552.6 1077.6 C1554 1069.7 1555.3 1058.8 1556.7 1050.9 C1558.1 1043 1559.7 1035.6 1560.9 1030.3 C1562.1 1025 1562.5 1024.3 1564 1019 C1565.5 1013.7 1568.3 1008.7 1569.9 998.7 C1571.5 988.7 1572.5 972.2 1573.8 958.9 C1575.1 945.6 1576.5 930.7 1577.8 919.1 C1579.1 907.5 1580.5 900.9 1581.8 889.3 C1583.1 877.7 1584.5 862.8 1585.8 849.5 C1587.1 836.2 1588.5 823.8 1589.8 809.7 C1591.1 795.6 1592.4 777.6 1593.7 765 C1595 752.4 1596 742.4 1597.7 734 C1599.4 725.6 1602.1 716.2 1603.7 714.7 C1605.3 713.2 1606.3 720.4 1607.5 725 C1608.7 729.6 1609.6 740.9 1610.6 742.6 C1611.6 744.3 1612.7 739 1613.5 735 C1614.3 731 1614.6 729.7 1615.6 718.7 C1616.6 707.7 1618.5 676.8 1619.6 669 C1620.7 661.2 1621.2 673.6 1622 672 C1622.8 670.4 1622.8 663.9 1624.6 659.3 C1626.4 654.7 1630.8 646 1633 644.5 C1635.2 643 1635.9 646.1 1637.6 650 C1639.3 653.9 1641.3 666.2 1643.2 667.7 C1645.1 669.2 1647 662.2 1648.8 659.3 C1650.6 656.3 1652.1 652.6 1654.3 650 C1656.5 647.4 1659.3 643.6 1661.8 643.5 C1664.3 643.4 1666.7 647.4 1669.2 649.1 C1671.7 650.8 1674.2 651.2 1676.7 653.8 C1679.2 656.4 1681.9 661.5 1684.1 664.9 C1686.3 668.3 1687.8 669.9 1689.7 674.2 C1691.6 678.5 1693 686.2 1695.2 690.9 C1697.4 695.5 1700.2 698.6 1702.7 702.1 C1705.2 705.6 1707.9 708.4 1710.1 712 C1712.3 715.6 1714.2 718.8 1715.7 723.5 C1717.2 728.2 1717.9 736.2 1719.4 740.2 C1721 744.2 1723.1 746.1 1725 747.6 C1726.9 749.1 1728.8 747 1730.6 749.5 C1732.4 752 1734.2 758.2 1736.1 762.5 C1737.9 766.8 1739.8 771.2 1741.7 775.5 C1743.6 779.8 1745.4 786.5 1747.3 788.5 C1749.2 790.5 1751.1 788.5 1752.9 787.6 C1754.8 786.7 1756.2 783.2 1758.4 782.9 C1760.6 782.6 1763.7 786.3 1765.9 785.7 C1768.1 785.1 1769.6 783.4 1771.4 779.2 C1773.2 775 1775.1 764.6 1777 760.6 C1778.9 756.6 1780.4 756.3 1782.6 755.1 C1784.8 753.9 1788.1 756 1790 753.2 C1791.9 750.4 1792.5 743.6 1793.8 738.3 C1795 733 1795.7 725.6 1797.5 721.6 C1799.3 717.6 1802.4 716.1 1804.9 714.2 C1807.4 712.3 1809.8 712.6 1812.3 710.4 C1814.8 708.2 1818.2 704.8 1819.8 701.2 C1821.4 697.6 1821.6 691 1822 689" fill="none" stroke="#FF00FF" stroke-width="6" stroke-linejoin="round" stroke-linecap="round"/>
<path d="M206 503.7 C206.5 503.2 207.7 500.5 209 500.8 C210.3 501.1 212.2 504.1 214 505.7 C215.8 507.3 218.5 508.9 220 510.7 C221.5 512.5 221.3 515.7 223 516.7 C224.7 517.7 227.4 516.9 230 516.7 C232.6 516.5 236.7 515 238.8 515.7 C240.9 516.4 241.3 520.2 242.8 520.7 C244.3 521.2 246.3 518.2 247.8 518.7 C249.3 519.2 250.3 524.5 251.8 523.7 C253.3 522.9 255.1 514.4 256.8 513.7 C258.5 513 260 517.7 261.8 519.7 C263.6 521.7 266.2 522.4 267.7 525.7 C269.2 529 269.5 534.6 270.7 539.6 C271.9 544.6 273.5 552.7 274.7 555.5 C275.9 558.3 275.7 559 277.7 556.5 C279.7 554 284.5 541.1 286.7 540.6 C288.9 540.1 288.8 551 290.6 553.5 C292.4 556 295.8 553.2 297.6 555.5 C299.4 557.8 300.3 562.9 301.6 567.5 C302.9 572.1 304.4 577.1 305.6 583.4 C306.8 589.7 307.6 600 308.6 605.3 C309.6 610.6 310.3 612.6 311.6 615.3 C312.9 618 315.4 617.3 316.5 621.3 C317.6 625.3 318 632.9 318.5 639.2 C319 645.5 318.8 652.5 319.5 659.1 C320.2 665.7 321.2 674 322.5 679 C323.8 684 326.2 684 327.5 689 C328.8 694 329.7 703.2 330.5 708.9 C331.3 714.5 331.7 717.7 332.5 722.9 C333.3 728.1 334.4 734.5 335.5 740 C336.6 745.5 337.8 750 339.4 756 C341 762 343.7 769.7 345.4 776 C347.1 782.3 347.7 787.5 349.4 793.8 C351.1 800.1 353.7 807.7 355.4 813.7 C357.1 819.7 358.1 825 359.4 829.6 C360.7 834.2 361.6 837.6 363.3 841.6 C365 845.6 367.3 849.2 369.3 853.5 C371.3 857.8 373.3 863.2 375.3 867.5 C377.3 871.8 379 875.4 381.3 879.4 C383.6 883.4 386.2 887.4 389.2 891.4 C392.2 895.4 395.9 899.5 399.2 903.3 C402.5 907.1 405.9 911.1 409.2 914.3 C412.5 917.5 415.8 920.1 419.1 922.3 C422.4 924.5 425.3 926.6 429.1 927.3 C432.9 928 437.9 927.1 442 926.6 C446.1 926.1 449.9 925.6 453.9 924.2 C457.9 922.8 461.9 920.7 465.9 918.3 C469.9 915.9 473.8 912.7 477.8 909.9 C481.8 907.1 485.8 904.7 489.8 901.5 C493.8 898.3 497.7 894.8 501.7 890.8 C505.7 886.8 509.7 882.8 513.7 877.6 C517.7 872.4 521.6 865.9 525.6 859.7 C529.6 853.5 533.6 847.4 537.6 840.6 C541.6 833.8 545.5 826.7 549.5 819.1 C553.5 811.5 557.5 802.8 561.5 795.2 C565.5 787.6 569.4 780.6 573.4 773.6 C577.4 766.6 581.4 759.7 585.4 753.3 C589.4 746.9 593.3 742 597.3 735.4 C601.3 728.8 605.3 719.1 609.3 713.9 C613.3 708.7 618 706.1 621.2 704.3 C624.4 702.5 626 702.1 628.4 703.1 C630.8 704.1 632.8 705.7 635.6 710.3 C638.4 714.9 642.4 723.2 645.2 730.6 C648 738 649.9 747.3 652.3 754.5 C654.7 761.7 657.4 769.7 659.5 773.6 C661.6 777.5 662.8 778.5 664.8 777.8 C666.8 777.1 668.7 772.5 671.7 769.5 C674.7 766.5 679.6 764.6 682.9 759.7 C686.1 754.8 688.7 745.8 691.2 740.2 C693.8 734.6 696.3 732.8 698.2 726.3 C700.1 719.8 700.5 708.6 702.4 701.2 C704.3 693.8 706.6 688.2 709.4 681.7 C712.2 675.2 715.2 668.2 719.1 662.2 C723 656.2 728.4 649.8 733 645.4 C737.6 641 742.8 638.2 747 635.7 C751.2 633.2 753.9 633.1 758.1 630.1 C762.3 627.1 767.5 621.6 772.1 617.6 C776.8 613.6 780.9 610.1 786 606.4 C791.1 602.7 796.7 599.2 802.7 595.3 C808.7 591.3 816.6 586 822.2 582.7 C827.8 579.4 831.1 577.8 836.2 575.7 C841.3 573.6 847.8 572.5 852.9 570.2 C858 567.9 862.1 564.6 866.8 561.8 C871.4 559 876.9 555.5 880.8 553.4 C884.7 551.3 886.9 550.5 890 549 C893.1 547.5 896.2 545.7 899.3 544.1 C902.4 542.5 904 541.5 908.6 539.5 C913.2 537.5 921 534.3 927.2 532 C933.4 529.7 939 527.7 945.8 525.5 C952.6 523.3 963.1 520.1 968.1 519 C973.1 517.9 972.7 518.4 975.5 519 C978.3 519.6 980.5 522.4 984.8 522.7 C989.1 523 997.2 520.9 1001.5 520.9 C1005.8 520.9 1007.1 521.9 1010.8 522.7 C1014.5 523.5 1019.2 525.6 1023.9 525.9 C1028.5 526.2 1034.4 525.8 1038.7 524.6 C1043 523.5 1045.2 520.7 1049.9 519 C1054.6 517.3 1061.3 516.1 1066.6 514.4 C1071.9 512.7 1076.8 511 1081.5 508.8 C1086.2 506.6 1090.5 503.5 1094.5 501.3 C1098.5 499.1 1101.7 497.2 1105.7 495.8 C1109.7 494.4 1115.1 494.1 1118.7 493 C1122.3 491.9 1125 489.2 1127.4 489.2 C1129.8 489.2 1130.8 493.5 1133 493 C1135.2 492.5 1137.6 487.8 1140.4 486.4 C1143.2 485 1146.9 483.8 1149.7 484.6 C1152.5 485.4 1155 490.8 1157.2 491.1 C1159.4 491.4 1160.3 485.8 1162.8 486.4 C1165.3 487 1169 492.6 1172.1 494.8 C1175.2 497 1179 496.7 1181.3 499.5 C1183.6 502.3 1184.6 506.7 1186 511.5 C1187.4 516.3 1188 523 1189.7 528.3 C1191.4 533.6 1194.5 537.2 1196.2 543.1 C1197.9 549 1198.7 556.5 1199.9 563.6 C1201.2 570.7 1202.5 578.1 1203.7 585.9 C1205 593.6 1206.2 601.4 1207.4 610.1 C1208.6 618.8 1210 629 1211.1 638 C1212.2 647 1213.1 654.9 1213.9 664 C1214.8 673.1 1215.4 684.8 1216.2 692.8 C1217 700.8 1217.8 707.1 1218.5 712 C1219.2 716.9 1219.5 720.5 1220.5 722 C1221.5 723.5 1222.7 722.4 1224.5 721 C1226.3 719.6 1228.8 715.2 1231.3 713.5 C1233.8 711.8 1237.3 709.7 1239.8 711 C1242.3 712.3 1244.5 717.7 1246.4 721.3 C1248.3 724.9 1249.7 727.9 1251.1 732.5 C1252.5 737.1 1253.4 743.3 1254.8 749.2 C1256.2 755.1 1257.4 764.4 1259.4 767.8 C1261.4 771.2 1264.9 770.8 1266.9 769.7 C1268.9 768.6 1270.1 763.8 1271.5 761.3 C1272.9 758.8 1273.3 754.5 1275.2 754.8 C1277.1 755.1 1280.8 764.1 1282.7 763.2 C1284.6 762.3 1285.5 754.2 1286.4 749.2 C1287.3 744.2 1287.3 741.6 1288 733 C1288.7 724.4 1290 709 1290.8 697.5 C1291.6 686 1292.2 674.1 1293.1 664.1 C1294 654.1 1295.1 644.6 1296.1 637.8 C1297.1 631 1298 627.7 1299.1 623.5 C1300.2 619.3 1301.5 615 1302.7 612.7 C1303.9 610.4 1305.1 609.5 1306.3 609.7 C1307.5 609.9 1308.5 612.9 1309.9 613.9 C1311.3 614.9 1313.5 613.7 1314.6 615.7 C1315.7 617.7 1315.9 620.1 1316.4 625.8 C1316.9 631.5 1317.1 640.7 1317.6 649.7 C1318.1 658.7 1318.8 670.6 1319.4 679.6 C1320 688.6 1320.4 696.7 1321.2 703.5 C1322 710.3 1323.2 719 1324.2 720.2 C1325.2 721.4 1326.2 716.5 1327.2 710.7 C1328.2 704.9 1329.3 694.8 1330.2 685.6 C1331.1 676.4 1331.7 662.5 1332.6 655.7 C1333.5 648.9 1334.5 646.4 1335.6 645 C1336.7 643.6 1338.2 643.5 1339.1 647.3 C1340 651.1 1340.4 660.3 1340.9 667.7 C1341.4 675.1 1341.6 683.7 1342.1 691.6 C1342.6 699.5 1343.3 707.5 1343.9 715.4 C1344.5 723.3 1344.9 733.3 1345.7 739.3 C1346.5 745.3 1347.5 750.9 1348.7 751.3 C1349.9 751.7 1351.6 744.6 1352.9 741.7 C1354.2 738.8 1355.1 733.6 1356.5 733.9 C1357.9 734.1 1359.7 739.2 1361.2 743.2 C1362.8 747.2 1364.3 758.4 1365.8 758.1 C1367.3 757.8 1368.9 746.3 1370.4 741.3 C1372 736.3 1373.5 728.3 1375.1 728.3 C1376.6 728.3 1378.2 734.2 1379.7 741.3 C1381.2 748.4 1383 765.4 1384.4 771.1 C1385.8 776.8 1386.7 776.9 1388.1 775.7 C1389.5 774.5 1391.4 768.5 1392.8 763.7 C1394.2 758.9 1395.1 751.2 1396.5 746.9 C1397.9 742.5 1399.2 737.3 1401.1 737.6 C1402.9 737.9 1405.6 745.7 1407.6 748.8 C1409.6 751.9 1411.3 756.5 1413.2 756.2 C1415.1 755.9 1416.8 751.5 1418.8 746.9 C1420.8 742.2 1423.4 730.1 1425.3 728.3 C1427.2 726.4 1428.5 730.8 1429.9 735.8 C1431.3 740.8 1432.5 750.7 1433.7 758.1 C1435 765.5 1435.9 774.5 1437.4 780.4 C1439 786.3 1441 790.9 1443 793.4 C1445 795.9 1447.8 795.9 1449.5 795.3 C1451.2 794.7 1451.8 793.4 1453.2 789.7 C1454.6 786 1456.1 777.6 1457.8 773 C1459.5 768.4 1461.2 764.1 1463.4 761.8 C1465.6 759.5 1468.6 758.7 1470.8 759 C1473 759.3 1475 759.8 1476.4 763.7 C1477.8 767.6 1478.3 774.5 1479.2 782.2 C1480.1 789.9 1481.1 800.8 1482 810.1 C1482.9 819.4 1483.7 831.2 1484.8 838 C1485.9 844.8 1487.1 850.1 1488.5 851 C1489.9 851.9 1491.7 847.3 1493.1 843.6 C1494.5 839.9 1495.7 829 1496.9 828.7 C1498.2 828.4 1499.5 836.1 1500.6 841.7 C1501.7 847.3 1502.5 855.7 1503.4 862.2 C1504.3 868.7 1504.8 876.1 1506.2 880.8 C1507.6 885.4 1509.5 888.2 1511.7 890.1 C1513.9 892 1517 890.4 1519.2 891.9 C1521.4 893.4 1523 896 1524.8 899.4 C1526.6 902.8 1528.1 908.4 1530.3 912.4 C1532.5 916.4 1535.7 920.7 1537.8 923.5 C1539.9 926.3 1541.1 930.4 1543 929 C1544.9 927.6 1547.2 920.7 1549 915.1 C1550.8 909.5 1552.4 902.2 1553.9 895.2 C1555.4 888.2 1556.6 881.2 1557.9 873.3 C1559.2 865.3 1560.2 854.1 1561.9 847.5 C1563.6 840.9 1566.2 838.8 1567.9 833.5 C1569.6 828.2 1570.7 822.9 1571.8 815.6 C1572.9 808.3 1574 799.1 1574.8 789.8 C1575.6 780.5 1576 771.3 1576.8 760 C1577.6 748.7 1578.6 735.5 1579.8 722 C1581 708.5 1582.5 692.7 1583.8 678.9 C1585.1 665.1 1586.5 652.4 1587.8 639.1 C1589.1 625.8 1590.4 610.2 1591.7 599.3 C1593 588.3 1594.4 581.7 1595.7 573.4 C1597 565.1 1598.2 554.9 1599.7 549.6 C1601.2 544.3 1603.2 541 1604.7 541.6 C1606.2 542.2 1607.4 548.9 1608.7 553.5 C1610 558.1 1611.4 569.8 1612.6 569.5 C1613.8 569.2 1614.8 558.6 1615.6 552 C1616.4 545.4 1616.8 536.9 1617.5 530 C1618.2 523.1 1619 516.9 1620 510.6 C1621 504.3 1622.3 497.3 1623.7 492 C1625.1 486.7 1626.6 482.7 1628.3 479 C1630 475.3 1632.4 470 1633.9 469.7 C1635.5 469.4 1636.4 473.5 1637.6 477.2 C1638.8 480.9 1640 489.5 1641.3 492 C1642.5 494.5 1643.5 493.9 1645.1 492 C1646.6 490.1 1648.4 484 1650.6 480.9 C1652.8 477.8 1655.6 475.1 1658.1 473.5 C1660.6 471.9 1663 471 1665.5 471.6 C1668 472.2 1670.4 474.7 1672.9 477.2 C1675.4 479.7 1677.9 483.4 1680.4 486.5 C1682.9 489.6 1686 492.4 1687.8 495.8 C1689.6 499.2 1690.3 502.9 1691.5 506.9 C1692.7 510.9 1693.3 516.2 1695.2 519.9 C1697.1 523.6 1699.9 525.8 1702.7 529.2 C1705.5 532.6 1709.8 536.1 1712 540.4 C1714.2 544.7 1714.5 550.2 1715.7 555.2 C1716.9 560.2 1717.9 567 1719.4 570.1 C1721 573.2 1723 572.6 1725 573.8 C1727 575 1729.3 574.4 1731.5 577.5 C1733.7 580.6 1736 587.4 1738 592.4 C1740 597.4 1741.8 603.1 1743.6 607.3 C1745.4 611.5 1747.2 616.3 1749.1 617.5 C1750.9 618.7 1752.8 615.9 1754.7 614.7 C1756.6 613.5 1758.1 610.2 1760.3 610.1 C1762.5 610 1765.5 614.6 1767.7 613.8 C1769.9 613 1771.4 609.6 1773.3 605.4 C1775.2 601.2 1777 592 1778.9 588.7 C1780.8 585.5 1782.7 586.5 1784.5 585.9 C1786.3 585.3 1788.5 587.6 1790 585 C1791.5 582.4 1792.5 575.1 1793.8 570.1 C1795 565.1 1796 558.9 1797.5 555.2 C1799 551.5 1800.8 548.7 1803 547.8 C1805.2 546.9 1808.2 550.3 1810.5 549.7 C1812.8 549.1 1815.1 547.7 1817 544.1 C1818.9 540.5 1821.2 530.7 1822 528" fill="none" stroke="#0000FF" stroke-width="6" stroke-linejoin="round" stroke-linecap="round"/>
<path d="M206 357 C206.7 356.5 208.5 353.8 210 354 C211.5 354.2 213.5 356.8 215 358 C216.5 359.2 217.2 359.7 219 361 C220.8 362.3 223.3 365.8 226 366 C228.7 366.2 232.3 362.5 235 362 C237.7 361.5 239.5 363.2 242 363 C244.5 362.8 247.5 363.7 250 361 C252.5 358.3 255 347.7 257 347 C259 346.3 260.2 354.8 262 357 C263.8 359.2 266.3 357 268 360 C269.7 363 270.7 371 272 375 C273.3 379 274.5 384.3 276 384 C277.5 383.7 279.2 376.3 281 373 C282.8 369.7 285.2 364.7 287 364 C288.8 363.3 289.8 368.2 292 369 C294.2 369.8 298 367.7 300 369 C302 370.3 302.7 372.5 304 377 C305.3 381.5 305.9 392.5 307.6 396 C309.4 399.5 312.7 395.5 314.5 398 C316.3 400.5 317.5 406.5 318.5 411 C319.5 415.5 318.8 421.7 320.5 425 C322.2 428.3 326.5 428 328.5 431 C330.5 434 331 438.3 332.5 443 C334 447.7 336.4 455.2 337.5 459 C338.6 462.8 338.1 463.2 339.4 466 C340.7 468.8 343.7 472.3 345.4 475.9 C347.1 479.5 347.7 484.5 349.4 487.8 C351.1 491.1 353.7 492.2 355.4 495.8 C357.1 499.4 357.8 505.7 359.4 509.7 C361 513.7 363 516.4 365.3 519.7 C367.6 523 371 526 373.3 529.6 C375.6 533.2 376.7 537.6 379.3 541.6 C381.9 545.6 385.9 549.9 389.2 553.5 C392.5 557.1 395.9 560.5 399.2 563.5 C402.5 566.5 405.9 569.2 409.2 571.5 C412.5 573.8 415.8 576.2 419.1 577.5 C422.4 578.8 425.3 579.7 429.1 579.4 C432.9 579.1 437.9 577.3 442 575.9 C446.1 574.5 449.9 573.3 453.9 571.1 C457.9 568.9 461.9 565.9 465.9 562.7 C469.9 559.5 473.8 555 477.8 552 C481.8 549 485.8 547.4 489.8 544.8 C493.8 542.2 497.7 539.8 501.7 536.4 C505.7 533 509.7 528.5 513.7 524.5 C517.7 520.5 521.6 516.7 525.6 512.5 C529.6 508.3 533.6 503.6 537.6 499.4 C541.6 495.2 545.5 491.6 549.5 487.4 C553.5 483.2 557.5 478.3 561.5 474.3 C565.5 470.3 569.4 467.1 573.4 463.5 C577.4 459.9 581.4 456 585.4 452.8 C589.4 449.6 593.3 447 597.3 444.4 C601.3 441.8 605.3 439 609.3 437.2 C613.3 435.4 617.6 434.2 621.2 433.6 C624.8 433 627.6 431.8 630.8 433.6 C634 435.4 637.2 440.8 640.4 444.4 C643.6 448 647.1 451.4 649.9 455.2 C652.7 459 654.6 464.2 657.1 467.1 C659.6 470 661.8 472.9 664.6 472.4 C667.4 471.9 670.5 466.6 674.1 464 C677.7 461.4 682.3 459.7 686.1 456.9 C689.9 454.1 694 451.3 696.8 447.3 C699.6 443.3 700.6 437.4 702.8 433 C705 428.6 706.8 424.6 710 421 C713.2 417.4 717.9 414.1 721.9 411.5 C725.9 408.9 729.1 407.1 733.9 405.5 C738.7 403.9 745.8 403.1 750.6 401.9 C755.4 400.7 758.6 399.5 762.6 398.3 C766.6 397.1 770.5 395.9 774.5 394.7 C778.5 393.5 782.5 392.2 786.5 391.1 C790.5 390 794.4 389.1 798.4 388 C802.4 386.9 806.4 385.5 810.4 384.4 C814.4 383.3 818.3 382.5 822.3 381.6 C826.3 380.7 830.3 379.9 834.3 379.2 C838.3 378.5 842.3 378.2 846.3 377.5 C850.3 376.8 854.2 376 858.2 375.1 C862.2 374.2 866.2 372.9 870.2 372 C874.2 371.1 878.8 370.1 882.1 369.6 C885.4 369.1 885.2 369.9 890 369 C894.8 368.1 905.8 366.4 910.7 364.5 C915.6 362.6 915.6 358.9 919.4 357.6 C923.1 356.3 928 357.1 933.2 356.7 C938.4 356.3 944.6 355.4 950.4 355 C956.1 354.6 962.8 353.7 967.7 354.2 C972.6 354.7 974 357.3 979.8 358 C985.6 358.7 995.7 358 1002.3 358.5 C1008.9 359 1013.8 360.7 1019.5 361.1 C1025.2 361.5 1031 361.5 1036.8 361.1 C1042.6 360.7 1048.3 359.4 1054.1 358.5 C1059.8 357.6 1065.5 357.2 1071.3 355.9 C1077 354.6 1082.8 352 1088.6 350.7 C1094.4 349.4 1100.7 348.6 1105.9 348.1 C1111.1 347.6 1116.1 347.8 1120 347.5 C1123.9 347.2 1126.2 346.6 1129.3 346.4 C1132.4 346.2 1135.2 346.7 1138.6 346.4 C1142 346.1 1146.6 344.1 1149.7 344.5 C1152.8 344.9 1155 349 1157.2 349.1 C1159.4 349.2 1160.6 344.9 1162.8 345.4 C1165 345.9 1166.8 350.8 1170.2 351.9 C1173.6 353 1180.4 350.3 1183.2 351.9 C1186 353.4 1185 358.1 1186.9 361.2 C1188.8 364.3 1192.2 367.1 1194.4 370.5 C1196.6 373.9 1198.4 376.8 1199.9 381.7 C1201.5 386.6 1202.5 395.1 1203.7 400 C1205 404.9 1206.3 406.6 1207.4 411.2 C1208.5 415.8 1209.3 421.7 1210.2 427.9 C1211.1 434.1 1212.1 442.1 1213 448.3 C1213.9 454.5 1214.6 461.5 1215.7 465.1 C1216.8 468.7 1218.1 469.4 1219.5 469.7 C1220.9 470 1222.1 468.1 1224.1 466.9 C1226.1 465.7 1228.7 463.4 1231.5 462.3 C1234.3 461.2 1237.7 459.3 1240.8 460.4 C1243.9 461.5 1247.9 465.9 1250.1 468.8 C1252.3 471.8 1252.7 473.8 1253.9 478.1 C1255.2 482.4 1256.2 490.8 1257.6 494.8 C1259 498.8 1260.3 501.4 1262.2 502.2 C1264.1 503 1266.7 500.9 1268.7 499.5 C1270.7 498.1 1272.1 494.4 1274.3 493.9 C1276.5 493.4 1279.7 497.5 1281.7 496.7 C1283.7 495.9 1285 494.8 1286.4 489.2 C1287.8 483.6 1288.7 471.9 1290.1 463.2 C1291.5 454.5 1293.1 443.7 1294.8 437.2 C1296.5 430.7 1298.4 427.1 1300.3 424.2 C1302.2 421.2 1303.6 419.7 1305.9 419.5 C1308.2 419.3 1312.3 420.2 1314.3 423.2 C1316.3 426.1 1316.9 430.8 1318 437.2 C1319.1 443.6 1319.9 455.6 1320.8 461.3 C1321.7 467 1322.5 471 1323.6 471.6 C1324.7 472.2 1326.1 469 1327.3 465.1 C1328.5 461.2 1329.6 454 1331 448.3 C1332.4 442.6 1334 432.6 1335.6 430.7 C1337.1 428.8 1339 433 1340.3 437.2 C1341.5 441.4 1342.2 449.3 1343.1 455.8 C1344 462.3 1345.1 471.4 1345.9 476.2 C1346.7 481 1346.5 484.9 1347.7 484.6 C1348.9 484.3 1351.7 476.6 1353.3 474.4 C1354.9 472.2 1355.5 470.1 1357.4 471.6 C1359.3 473.2 1362.9 483.1 1364.9 483.7 C1366.9 484.3 1368 477.8 1369.5 475 C1371 472.2 1372.5 466 1374.2 467 C1375.9 468 1378.2 475.5 1379.7 480.9 C1381.2 486.3 1382.2 495.9 1383.5 499.5 C1384.8 503.1 1386 503.9 1387.2 502.3 C1388.4 500.8 1389.5 494.7 1390.9 490.2 C1392.3 485.7 1393.8 478.7 1395.5 475.3 C1397.2 471.9 1399.1 469.4 1401.1 469.7 C1403.1 470 1405.4 475.2 1407.6 477.2 C1409.8 479.2 1412.2 481.9 1414.1 481.8 C1416 481.7 1416.9 479.6 1418.8 476.3 C1420.7 473.1 1423.4 463.7 1425.3 462.3 C1427.2 460.9 1428.2 463.9 1429.9 467.9 C1431.6 471.9 1433.6 481.9 1435.5 486.5 C1437.4 491.1 1438.3 493 1441.1 495.8 C1443.9 498.6 1449.4 502.7 1452.2 503.2 C1455 503.7 1455.6 500.2 1457.8 498.6 C1460 497.1 1463.1 493.4 1465.3 493.9 C1467.5 494.3 1468.9 497.9 1470.8 501.3 C1472.7 504.7 1474.2 510.7 1476.4 514.4 C1478.6 518.1 1481.7 522.2 1483.9 523.7 C1486.1 525.2 1487.6 525.2 1489.4 523.7 C1491.2 522.2 1493.5 515.3 1495 514.4 C1496.5 513.5 1497.5 514.4 1498.7 518.1 C1499.9 521.8 1500.9 531.4 1502.4 536.7 C1504 542 1506.1 547.2 1508 549.7 C1509.9 552.2 1511.4 552 1513.6 551.5 C1515.8 551 1518.5 546.3 1521 546.9 C1523.5 547.5 1526.3 552.7 1528.5 555.3 C1530.7 557.9 1532.5 560.2 1534 562.7 C1535.5 565.2 1536.4 568.1 1537.8 570.1 C1539.2 572.1 1540.7 575.9 1542.4 574.8 C1544.1 573.7 1546.1 568.4 1548 563.5 C1549.9 558.6 1551.9 551.9 1553.9 545.6 C1555.9 539.3 1558.2 531 1559.9 525.7 C1561.6 520.4 1562.2 517 1563.9 513.7 C1565.6 510.4 1568.2 509.8 1569.9 505.8 C1571.6 501.8 1572.5 495.9 1573.8 489.9 C1575.1 483.9 1576.7 476 1577.8 470 C1578.9 464 1579 462.5 1580.3 454 C1581.6 445.5 1584.1 428 1585.8 418.8 C1587.5 409.6 1588.7 404.9 1590.7 398.9 C1592.7 392.9 1595.5 386.3 1597.7 383 C1599.9 379.7 1602.1 379.3 1603.7 379 C1605.3 378.7 1606.2 379.7 1607.5 381 C1608.8 382.3 1609.9 389 1611.6 387 C1613.3 385 1616.2 372.9 1617.6 369 C1619 365.1 1618.7 365.9 1620 363.8 C1621.3 361.7 1623.3 358.9 1625.5 356.3 C1627.7 353.7 1630.4 348 1633 348 C1635.6 348 1638.7 354.8 1641.3 356.3 C1643.9 357.8 1646.6 357.7 1648.8 357.2 C1651 356.7 1652.1 356 1654.3 353.5 C1656.5 351 1658.7 343.6 1661.8 342.4 C1664.9 341.2 1669.5 345 1672.9 346.1 C1676.3 347.2 1679.1 347.2 1682.2 348.9 C1685.3 350.6 1688.4 353.8 1691.5 356.3 C1694.6 358.8 1698.3 360.6 1700.8 363.8 C1703.3 367.1 1704.1 375.4 1706.4 375.8 C1708.7 376.2 1712.3 366.6 1714.8 366.5 C1717.3 366.4 1718.7 373.3 1721.3 374.9 C1723.9 376.4 1728.1 374.1 1730.6 375.8 C1733.1 377.5 1733.9 381.1 1736.1 385.1 C1738.3 389.1 1740.8 397.5 1743.6 400 C1746.4 402.5 1750.4 400.1 1752.9 400 C1755.4 399.9 1756.2 398 1758.4 399.1 C1760.6 400.2 1763.7 406.5 1765.9 406.5 C1768.1 406.5 1769.6 402.7 1771.4 399.1 C1773.2 395.5 1775.1 388.2 1777 385.1 C1778.9 382 1780.6 381.3 1782.6 380.5 C1784.6 379.7 1786.9 382.4 1789.1 380.5 C1791.3 378.6 1793.3 372.4 1795.6 369.3 C1797.9 366.2 1800.2 364.1 1803 361.9 C1805.8 359.7 1809.1 358.2 1812.3 356.3 C1815.5 354.4 1820.4 351.5 1822 350.5" fill="none" stroke="#FF0000" stroke-width="6" stroke-linejoin="round" stroke-linecap="round"/>
<path d="M206 185 C206.3 185 207.2 185.1 208 184.9 C208.8 184.7 209.7 183.5 211 184 C212.3 184.5 214.5 187 216 188 C217.5 189 218.7 188.8 220 190 C221.3 191.2 222.5 194.2 224 195 C225.5 195.8 227.5 195.3 229 195 C230.5 194.7 231.5 193.2 233 193 C234.5 192.8 236.3 193.7 238 193.5 C239.7 193.3 240.8 191.9 243 192 C245.2 192.1 248.5 194.5 251 194 C253.5 193.5 255.5 189.2 258 189 C260.5 188.8 264.2 191.5 266 193 C267.8 194.5 267.8 194.7 269 198 C270.2 201.3 271.7 209.5 273 213 C274.3 216.5 275.5 219.2 277 219 C278.5 218.8 280.3 213.8 282 212 C283.7 210.2 285.3 207.8 287 208 C288.7 208.2 290.2 211.8 292 213 C293.8 214.2 296.3 213.7 298 215 C299.7 216.3 300.8 218.2 302 221 C303.2 223.8 304 227.8 305 232 C306 236.2 306.2 242.1 308 246 C309.8 249.9 313.8 251.3 315.5 255.6 C317.2 259.9 317.7 265.5 318.5 271.5 C319.3 277.5 319 285.5 320.5 291.5 C322 297.5 325.7 301.1 327.5 307.4 C329.3 313.6 330.2 321.7 331.5 329 C332.8 336.3 333.9 344 335.5 351 C337.1 358 339.6 363.7 341.4 371 C343.2 378.3 344.4 388.3 346.4 395 C348.4 401.7 351.6 406.3 353.4 411 C355.2 415.7 356.1 418 357.4 423 C358.7 428 359.4 435 361.4 441 C363.4 447 367.3 454 369.3 458.8 C371.3 463.6 371.6 465.5 373.3 470 C375 474.5 376.7 480.4 379.3 486 C381.9 491.6 385.9 498.1 389.2 503.7 C392.5 509.3 395.9 515.4 399.2 519.7 C402.5 524 405.9 526.6 409.2 529.6 C412.5 532.6 415.8 535.9 419.1 537.6 C422.4 539.3 425.3 540.2 429.1 539.6 C432.9 539 437.9 536.3 442 534 C446.1 531.7 449.9 529.7 453.9 525.7 C457.9 521.7 461.9 515.9 465.9 510.1 C469.9 504.3 473.8 496.2 477.8 491 C481.8 485.8 485.8 483.4 489.8 479 C493.8 474.6 497.7 470.7 501.7 464.7 C505.7 458.7 509.7 450 513.7 443.2 C517.7 436.4 521.6 430.9 525.6 424.1 C529.6 417.3 533.6 410.2 537.6 402.6 C541.6 395 545.5 386.7 549.5 378.7 C553.5 370.7 557.5 362 561.5 354.8 C565.5 347.6 569.4 341.8 573.4 335.6 C577.4 329.4 581.4 323.3 585.4 317.7 C589.4 312.1 593.3 307.2 597.3 302.2 C601.3 297.2 605.3 292 609.3 287.8 C613.3 283.6 618.2 279.3 621.2 277.1 C624.2 274.9 624.8 274.1 627.2 274.7 C629.6 275.3 632.6 277.4 635.6 280.6 C638.6 283.8 642 288.6 645.2 293.8 C648.4 299 652.3 306.4 654.7 311.7 C657.1 317 658.1 321.1 659.8 325.4 C661.4 329.7 663 337.3 664.6 337.3 C666.2 337.3 667.7 329.6 669.3 325.4 C670.9 321.2 672.1 315.6 674.1 312.2 C676.1 308.8 678.9 308.1 681.3 305.1 C683.7 302.1 685.9 296.1 688.5 294.3 C691.1 292.5 694.6 297.1 696.8 294.3 C699 291.5 700.2 283.4 701.6 277.6 C703 271.8 703.4 264.6 705.2 259.6 C707 254.6 709.6 251.3 712.4 247.7 C715.2 244.1 718.3 240.9 721.9 238.1 C725.5 235.3 729.1 233.2 733.9 231 C738.7 228.8 745.8 226.8 750.6 225 C755.4 223.2 758.6 221.8 762.6 220.2 C766.6 218.6 770.5 216.9 774.5 215.4 C778.5 213.9 782.5 212.5 786.5 211.1 C790.5 209.7 794.4 208.4 798.4 207.1 C802.4 205.8 806.4 204.7 810.4 203.5 C814.4 202.3 818.3 201 822.3 199.9 C826.3 198.8 830.3 197.7 834.3 197 C838.3 196.3 842.3 196.2 846.3 195.6 C850.3 195 854.2 194.1 858.2 193.2 C862.2 192.3 866.2 191.1 870.2 190.3 C874.2 189.5 878.8 188.9 882.1 188.4 C885.4 187.9 885.8 188.2 890 187.5 C894.2 186.8 901.5 185.3 907.3 184 C913 182.7 919.9 181 924.5 179.7 C929.1 178.4 931.4 177.3 934.9 176.3 C938.4 175.3 941.8 173.6 945.3 173.7 C948.8 173.8 951.9 176.1 955.6 177.1 C959.3 178.1 962.8 178.9 967.7 179.4 C972.6 179.9 979.2 179.8 985 180.1 C990.8 180.4 996.5 180.8 1002.3 181.5 C1008 182.2 1013.8 183.6 1019.5 184 C1025.2 184.4 1031 184.4 1036.8 184 C1042.6 183.6 1048.3 182.3 1054.1 181.5 C1059.8 180.7 1065.5 180.2 1071.3 178.9 C1077 177.6 1082.8 175.4 1088.6 173.7 C1094.4 172 1101.6 169.5 1105.9 168.5 C1110.2 167.5 1110.6 168 1114.5 167.6 C1118.4 167.2 1125.3 166.6 1129.3 166 C1133.3 165.4 1135.2 164.8 1138.6 164.2 C1142 163.6 1146.8 161.8 1149.7 162.3 C1152.7 162.8 1154.1 166.8 1156.3 167 C1158.5 167.2 1160.5 162.9 1162.8 163.2 C1165.1 163.5 1166.8 167.7 1170.2 168.8 C1173.6 169.9 1180.4 168.4 1183.2 169.7 C1186 170.9 1185 174 1186.9 176.3 C1188.8 178.6 1192.2 180.8 1194.4 183.7 C1196.6 186.6 1197.9 189.4 1199.9 193.9 C1201.9 198.4 1204.7 204.1 1206.4 210.6 C1208.1 217.1 1209.1 225.6 1210.2 233 C1211.3 240.4 1212.1 247.9 1213 255.3 C1213.9 262.7 1214.8 272.3 1215.7 277.6 C1216.6 282.9 1217.1 286 1218.5 286.9 C1219.9 287.8 1221.9 283.9 1224.1 283.1 C1226.3 282.3 1229 280.9 1231.5 282.2 C1234 283.4 1236.8 287.4 1239 290.6 C1241.2 293.9 1242.8 296.8 1244.6 301.7 C1246.4 306.6 1248.5 313.8 1250.1 320.3 C1251.6 326.8 1252.7 333.7 1253.9 340.8 C1255.2 347.9 1256.2 356.3 1257.6 363.1 C1259 369.9 1260.7 377.7 1262.2 381.7 C1263.8 385.7 1265.4 387 1266.9 387.3 C1268.5 387.6 1270 386.3 1271.5 383.5 C1273 380.7 1274.5 374.2 1276.2 370.5 C1277.9 366.8 1280.2 364.9 1281.7 361.2 C1283.2 357.5 1284.2 355 1285.5 348.2 C1286.8 341.4 1288 329.6 1289.2 320.3 C1290.4 311 1291.7 300.4 1292.9 292.4 C1294.1 284.3 1294.9 277.6 1296.6 272 C1298.3 266.4 1300.6 261.8 1303.1 259 C1305.6 256.2 1309.2 254.7 1311.5 255.3 C1313.8 255.9 1315.7 258.4 1317.1 262.7 C1318.5 267 1318.7 274.8 1319.8 281.3 C1320.9 287.8 1322.2 299.5 1323.6 301.7 C1325 303.9 1327 298.9 1328.2 294.3 C1329.4 289.7 1329.9 279.5 1331 273.9 C1332.1 268.3 1333.3 262.1 1334.7 260.8 C1336.1 259.6 1338 261.8 1339.4 266.4 C1340.8 271 1342 280.9 1343.1 288.7 C1344.2 296.4 1345 306.1 1345.9 312.9 C1346.8 319.7 1347.5 327.8 1348.7 329.6 C1349.9 331.5 1351.8 325.8 1353.3 324 C1354.8 322.2 1355.5 317.7 1357.4 319 C1359.3 320.3 1362.9 330.8 1364.9 332 C1366.9 333.2 1367.8 329.5 1369.5 326.4 C1371.2 323.3 1373.4 313.4 1375.1 313.4 C1376.8 313.4 1378.3 320.2 1379.7 326.4 C1381.1 332.6 1382.2 346 1383.5 350.6 C1384.8 355.2 1386 357.1 1387.2 354.3 C1388.4 351.5 1389.5 340.4 1390.9 333.9 C1392.3 327.4 1393.8 319.9 1395.5 315.3 C1397.2 310.7 1399.1 306 1401.1 306 C1403.1 306 1405.4 312.1 1407.6 315.3 C1409.8 318.6 1412.2 325.5 1414.1 325.5 C1416 325.5 1416.9 319.3 1418.8 315.3 C1420.7 311.3 1423.4 302.6 1425.3 301.3 C1427.2 300.1 1428.4 304.2 1429.9 307.8 C1431.5 311.4 1433 317.1 1434.6 322.7 C1436.1 328.3 1437.3 337.1 1439.2 341.3 C1441.1 345.5 1443.2 347.3 1445.7 347.8 C1448.2 348.3 1451.5 344.9 1454.1 344.1 C1456.7 343.3 1459 343 1461.5 343.1 C1464 343.2 1466.5 342.2 1469 345 C1471.5 347.8 1474.2 354.3 1476.4 359.9 C1478.6 365.5 1480.3 372.9 1482 378.5 C1483.7 384.1 1485 390.8 1486.6 393.3 C1488.1 395.8 1489.6 396.2 1491.3 393.3 C1493 390.4 1495.4 377.9 1496.9 375.7 C1498.5 373.5 1499.5 375.5 1500.6 380.3 C1501.7 385.1 1502.3 397.4 1503.4 404.5 C1504.5 411.6 1505.7 419.1 1507.1 423.1 C1508.5 427.1 1509.5 428.7 1511.7 428.7 C1513.9 428.7 1517.9 423.4 1520.1 423.1 C1522.3 422.8 1523.1 424 1524.8 426.8 C1526.5 429.6 1528.1 435.2 1530.3 439.8 C1532.5 444.4 1535.6 450.5 1537.8 454.7 C1540 458.9 1542.3 463.2 1543.3 464.9 C1544.3 466.5 1542.9 469 1544 464.6 C1545.1 460.2 1548 448 1550 438.7 C1552 429.4 1553.9 418.8 1555.9 408.9 C1557.9 398.9 1559.9 387.3 1561.9 379 C1563.9 370.7 1566.2 365.7 1567.9 359.1 C1569.6 352.5 1570.5 347.5 1571.8 339.2 C1573.1 330.9 1574.5 317.7 1575.8 309.4 C1577.1 301.1 1578.5 296.8 1579.8 289.5 C1581.1 282.2 1582.5 273.9 1583.8 265.6 C1585.1 257.3 1586.5 247.7 1587.8 239.7 C1589.1 231.7 1590 224.4 1591.7 217.8 C1593.4 211.2 1595.7 204.4 1597.7 199.9 C1599.7 195.4 1602 192.2 1603.7 191 C1605.4 189.8 1606.6 191.5 1607.9 192.8 C1609.2 194.1 1610.1 200 1611.6 198.9 C1613 197.8 1615.7 187.9 1616.6 186 C1617.5 184.1 1616.6 188.5 1617.2 187.2 C1617.8 185.8 1618.6 180.4 1620 177.9 C1621.4 175.4 1623.3 174.2 1625.5 172.3 C1627.7 170.4 1630.7 166.8 1633 166.7 C1635.3 166.5 1637.3 169.1 1639.5 171.4 C1641.7 173.7 1644 177.9 1646 180.7 C1648 183.5 1649.3 188.6 1651.6 188.1 C1653.9 187.6 1657.6 179 1659.9 177.9 C1662.2 176.8 1663.3 180.1 1665.5 181.6 C1667.7 183.1 1670.1 185.5 1672.9 187.2 C1675.7 188.9 1679.4 189.3 1682.2 191.8 C1685 194.3 1687.5 198.1 1689.7 202 C1691.9 205.9 1693.4 211.1 1695.2 215.1 C1697 219.1 1698.6 221.6 1700.8 226.2 C1703 230.8 1705.8 239.5 1708.3 242.9 C1710.8 246.3 1713.2 245.3 1715.7 246.7 C1718.2 248.1 1720.9 250.7 1723.1 251.3 C1725.3 251.9 1726.5 249.3 1728.7 250.4 C1730.9 251.5 1733.6 253.9 1736.1 257.8 C1738.6 261.7 1741.6 270.2 1743.6 273.6 C1745.6 277 1746.3 278.2 1748.2 278.3 C1750.1 278.4 1752.7 274.2 1754.7 274.5 C1756.7 274.8 1758.4 277.9 1760.3 280.1 C1762.2 282.3 1764.2 287.2 1765.9 287.5 C1767.6 287.8 1768.8 286 1770.5 282 C1772.2 278 1774.2 267.4 1776.1 263.4 C1778 259.4 1779.7 258.7 1781.7 257.8 C1783.7 256.9 1786.2 259.2 1788.2 257.8 C1790.2 256.4 1792 252.4 1793.8 249.4 C1795.6 246.4 1797.3 242.3 1799.3 240.1 C1801.3 237.9 1803.6 237.5 1805.8 236.4 C1808 235.3 1810.3 235 1812.3 233.6 C1814.3 232.2 1816.1 230 1817.9 228.1 C1819.7 226.2 1822.2 223 1823 222" fill="none" stroke="#000000" stroke-width="6" stroke-linejoin="round" stroke-linecap="round"/>
<line x1="1222.5" y1="110.5" x2="1222.5" y2="1325" stroke="#000" stroke-width="5" stroke-linecap="round" stroke-dasharray="10.50 16.06"/>
<line x1="1323.8" y1="124.0" x2="1323.8" y2="1334" stroke="#0000FF" stroke-width="4" stroke-linecap="round" stroke-dasharray="11.50 15.06"/>
<line x1="1390.8" y1="113.95" x2="1390.8" y2="1330" stroke="#000" stroke-width="4.5" stroke-linecap="round" stroke-dasharray="11.00 15.56"/>
<line x1="1454" y1="113.95" x2="1454" y2="1330" stroke="#000" stroke-width="4.5" stroke-linecap="round" stroke-dasharray="11.00 15.56"/>
<g stroke="#000" stroke-width="5" fill="none">
<line x1="205.5" y1="33" x2="205.5" y2="1339.0"/>
<line x1="182" y1="1336.5" x2="1824.5" y2="1336.5"/>
<line x1="182" y1="35.5" x2="205.5" y2="35.5"/>
<line x1="182" y1="252.3" x2="205.5" y2="252.3"/>
<line x1="182" y1="469.2" x2="205.5" y2="469.2"/>
<line x1="182" y1="686.0" x2="205.5" y2="686.0"/>
<line x1="182" y1="902.8" x2="205.5" y2="902.8"/>
<line x1="182" y1="1119.7" x2="205.5" y2="1119.7"/>
<line x1="182" y1="1336.5" x2="205.5" y2="1336.5"/>
<line x1="192" y1="143.9" x2="205.5" y2="143.9"/>
<line x1="192" y1="360.8" x2="205.5" y2="360.8"/>
<line x1="192" y1="577.6" x2="205.5" y2="577.6"/>
<line x1="192" y1="794.4" x2="205.5" y2="794.4"/>
<line x1="192" y1="1011.2" x2="205.5" y2="1011.2"/>
<line x1="192" y1="1228.1" x2="205.5" y2="1228.1"/>
<line x1="392.2" y1="1336.5" x2="392.2" y2="1359.5"/>
<line x1="626.6" y1="1336.5" x2="626.6" y2="1359.5"/>
<line x1="861.1" y1="1336.5" x2="861.1" y2="1359.5"/>
<line x1="1095.5" y1="1336.5" x2="1095.5" y2="1359.5"/>
<line x1="1329.9" y1="1336.5" x2="1329.9" y2="1359.5"/>
<line x1="1564.4" y1="1336.5" x2="1564.4" y2="1359.5"/>
<line x1="1798.8" y1="1336.5" x2="1798.8" y2="1359.5"/>
<line x1="274.9" y1="1336.5" x2="274.9" y2="1349"/>
<line x1="509.4" y1="1336.5" x2="509.4" y2="1349"/>
<line x1="743.8" y1="1336.5" x2="743.8" y2="1349"/>
<line x1="978.3" y1="1336.5" x2="978.3" y2="1349"/>
<line x1="1212.7" y1="1336.5" x2="1212.7" y2="1349"/>
<line x1="1447.2" y1="1336.5" x2="1447.2" y2="1349"/>
<line x1="1681.6" y1="1336.5" x2="1681.6" y2="1349"/>
</g>
<g class="s" font-size="45" fill="#000">
<text x="0" y="0" text-anchor="end" transform="translate(170.3 41.0) scale(0.915 1)">150</text>
<text x="0" y="0" text-anchor="end" transform="translate(170.3 264.0) scale(0.915 1)">120</text>
<text x="0" y="0" text-anchor="end" transform="translate(170.3 480.9) scale(0.915 1)">90</text>
<text x="0" y="0" text-anchor="end" transform="translate(170.3 697.7) scale(0.915 1)">60</text>
<text x="0" y="0" text-anchor="end" transform="translate(170.3 914.5) scale(0.915 1)">30</text>
<text x="0" y="0" text-anchor="end" transform="translate(170.3 1131.4) scale(0.915 1)">0</text>
<text x="0" y="0" text-anchor="end" transform="translate(170.3 1348.2) scale(0.915 1)">-30</text>
<text x="0" y="0" text-anchor="middle" transform="translate(392.2 1404.5) scale(0.915 1)">3500</text>
<text x="0" y="0" text-anchor="middle" transform="translate(626.6 1404.5) scale(0.915 1)">3000</text>
<text x="0" y="0" text-anchor="middle" transform="translate(861.1 1404.5) scale(0.915 1)">2500</text>
<text x="0" y="0" text-anchor="middle" transform="translate(1095.5 1404.5) scale(0.915 1)">2000</text>
<text x="0" y="0" text-anchor="middle" transform="translate(1329.9 1404.5) scale(0.915 1)">1500</text>
<text x="0" y="0" text-anchor="middle" transform="translate(1564.4 1404.5) scale(0.915 1)">1000</text>
<text x="0" y="0" text-anchor="middle" transform="translate(1798.8 1404.5) scale(0.915 1)">500</text>
</g>
<text class="s" x="0" y="0" font-size="51" transform="translate(640.3 1484) scale(1.028 1)">Wavenumbers(cm<tspan font-size="32" dy="-28">-1</tspan><tspan font-size="51" dy="28">)</tspan></text>
<text class="s" x="0" y="0" font-size="51" transform="translate(57 937) rotate(-90) scale(1.031 1)">% Transmittance</text>
<g class="s" font-size="52" fill="#000">
<text x="1721" y="214.5">0kGy</text>
<text x="1722.5" y="353.8">400kGy</text>
<text x="1732.5" y="508.7">600kGy</text>
<text x="1732.4" y="678.6">800kGy</text>
<text x="1687.5" y="845.6">1000kGy</text>
<text x="1699.5" y="1016">1200kGy</text>
</g>
<g class="t" font-size="43" fill="#000">
<text x="1178" y="90.2">1730</text>
<text x="1268.5" y="139.5">1515</text>
<text x="1332" y="105.2">1372</text>
<text x="1416" y="94.9">1237</text>
</g>
</svg>
</body></html>
